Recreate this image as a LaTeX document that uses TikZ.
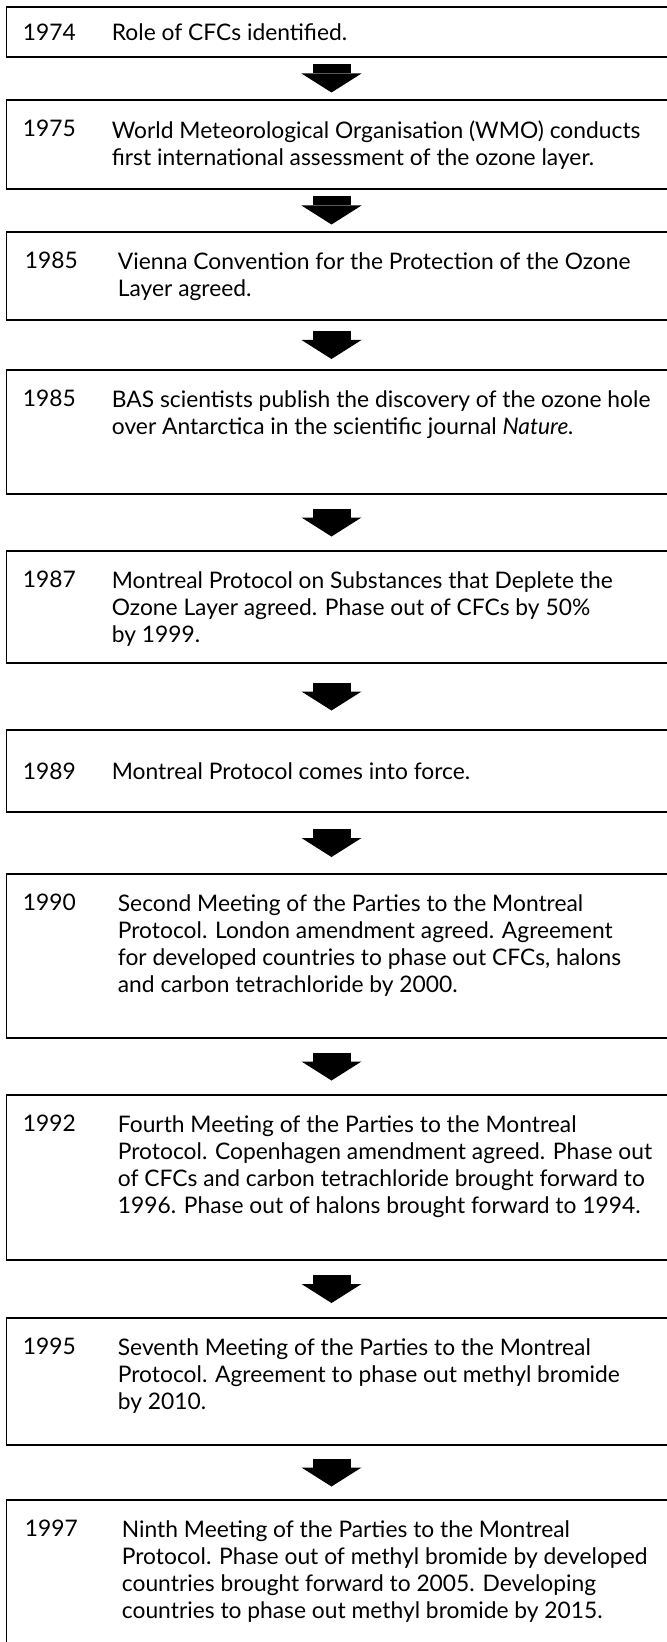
\documentclass[tikz,border=0pt]{standalone}
\usepackage{fontspec}
\setmainfont{Lato}
\usetikzlibrary{positioning,arrows.meta}

\begin{document}
\begin{tikzpicture}[
  x=0.5pt, y=-0.5pt,
  every node/.style={font=\fontsize{11.4}{13.5}\selectfont},
  event/.style={draw, line width=0.6pt, minimum width=331pt, minimum height=#1, inner sep=0pt, outer sep=0pt},
  yr/.style={anchor=north west, inner sep=0pt},
  txt/.style={anchor=north west, inner sep=0pt, align=left},
  blockarr/.style={line width=19pt, -{Triangle[width=30pt,length=9.5pt,line width=0pt]}},
]
\useasboundingbox (0,0) rectangle (666,1642);

\node[event=25pt, anchor=north] (b1) at (337.5,7) {};
\node[event=44.5pt, below=21.5pt of b1] (b2) {};
\node[event=44pt, below=21.5pt of b2] (b3) {};
\node[event=62pt, below=25pt of b3] (b4) {};
\node[event=56pt, below=28.5pt of b4] (b5) {};
\node[event=41pt, below=33.5pt of b5] (b6) {};
\node[event=82pt, below=31pt of b6] (b7) {};
\node[event=82.5pt, below=28.5pt of b7] (b8) {};
\node[event=63.5pt, below=29pt of b8] (b9) {};
\node[event=75pt, below=27.5pt of b9] (b10) {};

\node[anchor=west, inner sep=0pt] (y1) at ([xshift=8pt]b1.west) {1974};
\node[anchor=west, inner sep=0pt] (t1) at ([xshift=52.5pt]b1.west) {Role of CFCs identified.};

\node[yr, below right=10pt and 8pt of b2.north west] (y2) {1975};
\node[txt, below right=10pt and 52.5pt of b2.north west] (t2) {World Meteorological Organisation (WMO) conducts\\first international assessment of the ozone layer.};

\node[yr, below right=10pt and 9pt of b3.north west] (y3) {1985};
\node[txt, below right=10pt and 55.5pt of b3.north west] (t3) {Vienna Convention for the Protection of the Ozone\\Layer agreed.};

\node[yr, below right=10pt and 8pt of b4.north west] (y4) {1985};
\node[txt, below right=10pt and 52.5pt of b4.north west] (t4) {BAS scientists publish the discovery of the ozone hole\\over Antarctica in the scientific journal \textit{Nature.}};

\node[yr, below right=10pt and 8pt of b5.north west] (y5) {1987};
\node[txt, below right=10pt and 52.5pt of b5.north west] (t5) {Montreal Protocol on Substances that Deplete the\\Ozone Layer agreed. Phase out of CFCs by 50\%\\by 1999.};

\node[anchor=west, inner sep=0pt] (y6) at ([xshift=8pt]b6.west) {1989};
\node[anchor=west, inner sep=0pt] (t6) at ([xshift=52.5pt]b6.west) {Montreal Protocol comes into force.};

\node[yr, below right=10pt and 8pt of b7.north west] (y7) {1990};
\node[txt, below right=10pt and 55.5pt of b7.north west] (t7) {Second Meeting of the Parties to the Montreal\\Protocol. London amendment agreed. Agreement\\for developed countries to phase out CFCs, halons\\and carbon tetrachloride by 2000.};

\node[yr, below right=10pt and 8pt of b8.north west] (y8) {1992};
\node[txt, below right=10pt and 55.5pt of b8.north west] (t8) {Fourth Meeting of the Parties to the Montreal\\Protocol. Copenhagen amendment agreed. Phase out\\of CFCs and carbon tetrachloride brought forward to\\1996. Phase out of halons brought forward to 1994.};

\node[yr, below right=10pt and 8pt of b9.north west] (y9) {1995};
\node[txt, below right=10pt and 55.5pt of b9.north west] (t9) {Seventh Meeting of the Parties to the Montreal\\Protocol. Agreement to phase out methyl bromide\\by 2010.};

\node[yr, below right=10pt and 9pt of b10.north west] (y10) {1997};
\node[txt, below right=10pt and 57.5pt of b10.north west] (t10) {Ninth Meeting of the Parties to the Montreal\\Protocol. Phase out of methyl bromide by developed\\countries brought forward to 2005. Developing\\countries to phase out methyl bromide by 2015.};

\foreach \a/\b/\s in {b1/b2/3.75pt, b2/b3/3.75pt, b3/b4/5.5pt, b4/b5/7.25pt, b5/b6/9.75pt,
                      b6/b7/8.5pt, b7/b8/7.25pt, b8/b9/7.5pt, b9/b10/6.75pt}
  \draw[blockarr, shorten <=\s, shorten >=\s] ([xshift=-3pt]\a.south) -- ([xshift=-3pt]\b.north);
\end{tikzpicture}
\end{document}
